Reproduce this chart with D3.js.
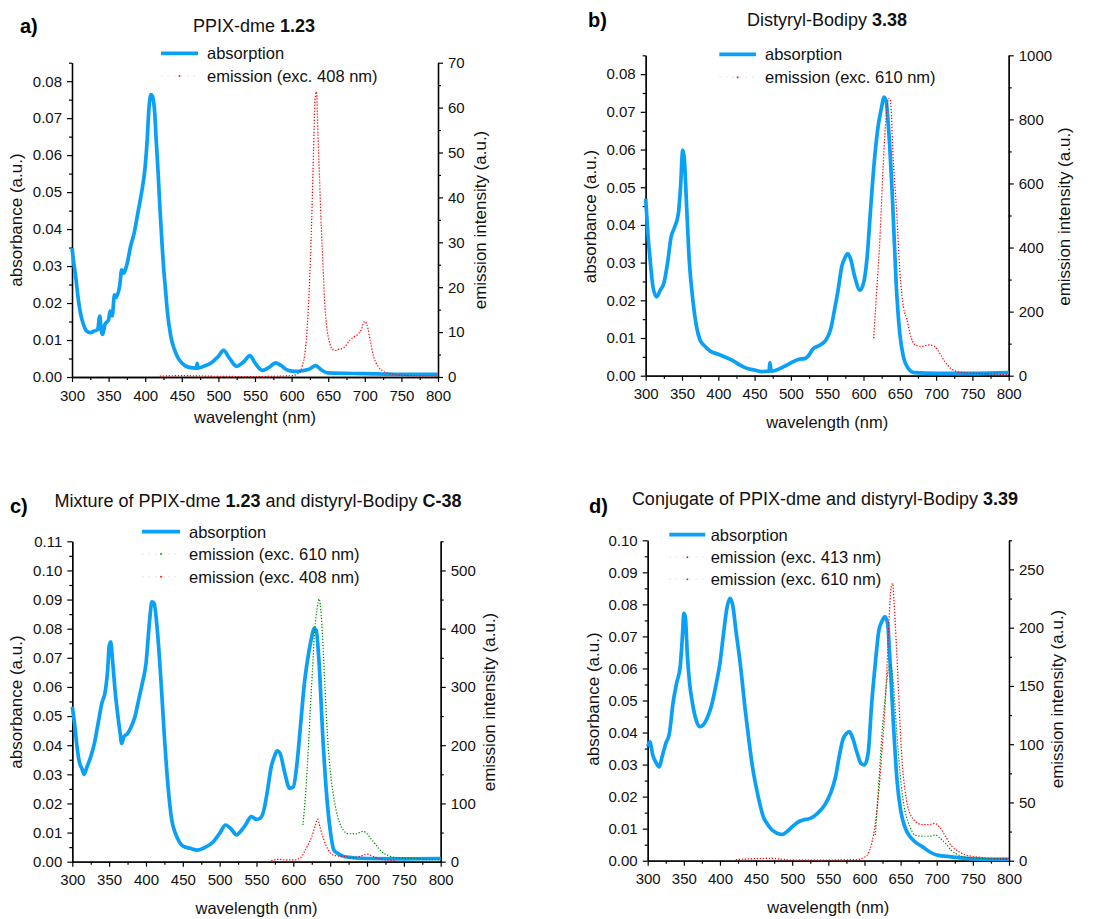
<!DOCTYPE html>
<html>
<head>
<meta charset="utf-8">
<script src="https://cdnjs.cloudflare.com/ajax/libs/d3/7.8.5/d3.min.js"></script>
<style>
  html, body { margin: 0; padding: 0; background: #fff; }
  svg { display: block; }
</style>
</head>
<body>
<script>
// ---------- data: [wavelength (nm), value] ----------
const xTickValues = [300, 350, 400, 450, 500, 550, 600, 650, 700, 750, 800];

// a) PPIX-dme 1.23
const absA = [[300,0.0349],[303,0.030],[305,0.0272],[308,0.022],[310,0.0191],[313,0.016],[315,0.0146],[318,0.013],[320,0.0124],[325,0.0120],[330,0.0124],[335,0.0128],[338,0.0165],[340,0.0125],[342,0.0115],[345,0.0142],[350,0.0155],[352,0.0178],[355,0.0165],[358,0.0222],[360,0.0215],[365,0.0245],[368,0.029],[370,0.0280],[375,0.0304],[380,0.0353],[385,0.0390],[390,0.0444],[395,0.0498],[400,0.0570],[403,0.065],[405,0.0723],[408,0.0764],[410,0.0759],[413,0.0714],[415,0.0642],[418,0.054],[420,0.0462],[423,0.036],[425,0.0300],[428,0.023],[430,0.0182],[435,0.0110],[440,0.0074],[445,0.0051],[450,0.0038],[460,0.0026],[470,0.0024],[471,0.0037],[472,0.0024],[480,0.0029],[490,0.0038],[500,0.0056],[507,0.0072],[515,0.0051],[525,0.0029],[535,0.0042],[543,0.0058],[550,0.0038],[560,0.0018],[570,0.0027],[578,0.0038],[585,0.0032],[595,0.0018],[605,0.0015],[615,0.0017],[625,0.0022],[633,0.0031],[640,0.0020],[650,0.0011],[700,0.0009],[750,0.0007],[800,0.0007]];
const emA408 = [[420,0.2],[450,0.3],[500,0.15],[550,0.1],[600,0.3],[610,0.9],[615,2.7],[618,5],[620,8.3],[623,15.7],[625,23],[628,38],[630,50.5],[632,61.7],[634,63.5],[636,54],[638,45],[640,35.7],[643,24.6],[645,17.2],[648,11.3],[652,7.6],[656,6.1],[660,5.9],[665,6.2],[670,6.4],[675,7.2],[680,8.3],[685,8.9],[690,9.4],[695,10.5],[700,12.4],[703,11.6],[708,7.6],[712,4.6],[718,2.4],[725,1.3],[735,0.7],[750,0.4],[800,0.15]];

// b) Distyryl-Bodipy 3.38
const absB = [[300,0.047],[303,0.0377],[307,0.0289],[310,0.0236],[315,0.0209],[320,0.0227],[325,0.0245],[330,0.0298],[335,0.0368],[340,0.0395],[345,0.043],[348,0.05],[351,0.0598],[353,0.058],[356,0.0465],[360,0.0306],[365,0.02],[370,0.013],[375,0.0094],[380,0.0081],[390,0.0064],[400,0.0057],[410,0.0049],[420,0.004],[430,0.0028],[440,0.0019],[450,0.0015],[460,0.0011],[470,0.0012],[471,0.0035],[473,0.0012],[480,0.0015],[490,0.0024],[500,0.0034],[510,0.0043],[520,0.0046],[525,0.0055],[530,0.007],[540,0.0081],[548,0.0094],[555,0.0125],[560,0.0174],[565,0.0227],[570,0.0289],[575,0.0315],[578,0.0324],[582,0.0311],[588,0.0262],[595,0.0227],[600,0.0245],[605,0.0315],[610,0.0448],[615,0.0571],[620,0.066],[625,0.0713],[628,0.0739],[631,0.073],[635,0.0642],[640,0.0465],[645,0.0245],[650,0.0112],[655,0.005],[660,0.0024],[670,0.0008],[700,0.0006],[750,0.0006],[800,0.0008]];
const emB610 = [[614,117],[618,258],[623,445],[627,650],[632,830],[635,866],[637,860],[641,673],[646,500],[650,328],[655,215],[660,174],[664,132],[671,96],[680,91],[690,96],[697,93],[705,70],[712,44],[720,23],[730,12],[740,9],[760,7],[780,5],[800,4]];

// c) Mixture of PPIX-dme 1.23 and distyryl-Bodipy C-38
const absC = [[300,0.0532],[303,0.0475],[307,0.0383],[310,0.0338],[313,0.032],[316,0.0300],[320,0.0326],[325,0.036],[330,0.0406],[335,0.0475],[340,0.0543],[345,0.0589],[348,0.0658],[350,0.0738],[352,0.0755],[355,0.068],[358,0.0589],[362,0.0498],[365,0.044],[367,0.0406],[370,0.0429],[375,0.044],[380,0.0463],[385,0.0498],[390,0.0555],[395,0.0612],[400,0.068],[405,0.083],[408,0.0892],[411,0.0887],[415,0.0806],[420,0.0635],[425,0.0429],[430,0.0257],[435,0.0143],[440,0.0097],[445,0.0069],[450,0.0054],[460,0.0046],[470,0.004],[480,0.0049],[490,0.0065],[500,0.0097],[508,0.0126],[515,0.0114],[523,0.0092],[530,0.0109],[535,0.0126],[543,0.0155],[550,0.0145],[555,0.0149],[560,0.0177],[565,0.0246],[570,0.0326],[575,0.0366],[578,0.0381],[582,0.0372],[588,0.0309],[595,0.0252],[600,0.0257],[605,0.0338],[610,0.0475],[615,0.0612],[620,0.0704],[625,0.0772],[628,0.0801],[631,0.0795],[635,0.068],[640,0.0429],[645,0.0235],[650,0.0109],[655,0.004],[660,0.0029],[670,0.0017],[700,0.0011],[750,0.001],[800,0.0011]];
const emC610 = [[613,63],[617,123],[620,186],[623,261],[626,329],[629,398],[632,432],[635,451],[638,421],[641,352],[644,272],[647,203],[650,158],[654,117],[658,89],[663,66],[668,54],[675,48],[685,48],[695,52],[700,48],[705,40],[712,29],[720,17],[730,10],[740,7],[760,6],[780,4],[800,3]];
const emC408 = [[570,2],[580,4],[590,3],[600,3],[610,7],[615,17],[620,29],[625,43],[630,63],[633,73],[636,60],[640,43],[645,26],[650,15],[655,11],[660,10],[670,9],[680,7],[690,9],[700,13],[705,11],[712,7],[720,4],[740,2]];

// d) Conjugate of PPIX-dme and distyryl-Bodipy 3.39
const absD = [[300,0.0356],[303,0.0371],[307,0.033],[312,0.0304],[316,0.0293],[320,0.0325],[325,0.0366],[330,0.0397],[335,0.0491],[340,0.0554],[345,0.0606],[348,0.0699],[350,0.0772],[352,0.0762],[355,0.0637],[358,0.0554],[362,0.0491],[367,0.0439],[372,0.0418],[377,0.0424],[382,0.0444],[388,0.0481],[395,0.0554],[400,0.0616],[405,0.071],[410,0.0793],[414,0.0819],[418,0.0793],[422,0.072],[428,0.0616],[435,0.047],[440,0.0377],[445,0.0293],[450,0.0231],[455,0.0179],[460,0.0137],[465,0.0117],[470,0.0101],[475,0.0091],[480,0.0085],[487,0.0082],[493,0.0091],[500,0.0106],[507,0.0119],[515,0.0127],[525,0.0132],[535,0.0148],[545,0.0174],[553,0.021],[560,0.0262],[565,0.0325],[570,0.0377],[575,0.0397],[579,0.0403],[583,0.0387],[590,0.0335],[595,0.0304],[600,0.0299],[605,0.0335],[610,0.0491],[615,0.0616],[620,0.072],[625,0.0751],[628,0.0762],[632,0.0741],[635,0.0637],[640,0.0429],[645,0.0252],[650,0.0158],[655,0.0111],[660,0.0085],[670,0.0059],[680,0.0044],[690,0.0028],[700,0.0018],[720,0.0012],[750,0.0006],[800,0.0004]];
const emD413 = [[422,1],[470,2],[500,0.6],[550,0.6],[590,1],[600,3],[605,6],[610,15],[615,32],[620,61],[625,101],[628,127],[631,164],[634,207],[637,235],[639,238],[641,221],[644,187],[647,147],[650,107],[653,78],[656,61],[660,46],[665,38],[670,34],[680,31],[690,31],[697,32],[705,28],[712,21],[720,13],[730,8],[740,5],[760,3],[780,2],[800,2]];
const emD610 = [[615,22],[618,49],[621,78],[624,107],[627,129],[630,149],[633,164],[636,168],[639,158],[642,135],[645,107],[648,84],[651,64],[655,46],[660,34],[665,26],[670,22],[680,21],[690,21],[698,22],[705,19],[712,15],[720,9],[730,5],[740,3],[760,2],[800,1]];

// ---------- styling ----------
const FONT = "'Liberation Sans', Arial, Helvetica, sans-serif";
const BLUE = "#0aa0f5";
const RED = "#ff0000";
const GREEN = "#008a00";

const svg = d3.select("body").append("svg")
  .attr("width", 1106).attr("height", 919)
  .style("font-family", FONT);

const panels = [
  {
    tag: "a)", tagX: 20, tagY: 33,
    title: ["PPIX-dme ", "1.23", ""], titleX: 254, titleY: 32,
    xTitle: "wavelenght (nm)", xTitleY: 423,
    x0: 72, x1: 438, y0: 377, y1: 62.7,
    leftMax: 0.085, leftTicks: [0, 0.01, 0.02, 0.03, 0.04, 0.05, 0.06, 0.07, 0.08],
    rightMax: 70, rightStep: 10, rightMinor: 5,
    leftTitleX: 22, rightTitleX: 486, titleCY: 220,
    legend: { x0: 161, x1: 198, tx: 207, rows: [53.3, 76] },
    absorption: absA,
    emissions: [{ data: emA408, color: RED, label: "emission (exc. 408 nm)" }]
  },
  {
    tag: "b)", tagX: 588, tagY: 27,
    title: ["Distyryl-Bodipy ", "3.38", ""], titleX: 827, titleY: 26,
    xTitle: "wavelength (nm)", xTitleY: 428,
    x0: 645.7, x1: 1008.7, y0: 375.7, y1: 55.3,
    leftMax: 0.085, leftTicks: [0, 0.01, 0.02, 0.03, 0.04, 0.05, 0.06, 0.07, 0.08],
    rightMax: 1000, rightStep: 200, rightMinor: 100,
    leftTitleX: 596, rightTitleX: 1070, titleCY: 216.5,
    legend: { x0: 719.3, x1: 756, tx: 765, rows: [54.3, 77.3] },
    absorption: absB,
    emissions: [{ data: emB610, color: RED, label: "emission (exc. 610 nm)" }]
  },
  {
    tag: "c)", tagX: 10, tagY: 513,
    title: ["Mixture of PPIX-dme ", "1.23", " and distyryl-Bodipy ", "C-38"], titleX: 258, titleY: 507,
    xTitle: "wavelength (nm)", xTitleY: 914,
    x0: 72.3, x1: 440.7, y0: 861.7, y1: 541.3,
    leftMax: 0.11, leftTicks: [0, 0.01, 0.02, 0.03, 0.04, 0.05, 0.06, 0.07, 0.08, 0.09, 0.10, 0.11],
    rightMax: 550, rightStep: 100, rightMinor: 50,
    leftTitleX: 22, rightTitleX: 495, titleCY: 702,
    legend: { x0: 142, x1: 180, tx: 189, rows: [531.7, 554, 576.7] },
    absorption: absC,
    emissions: [
      { data: emC610, color: GREEN, label: "emission (exc. 610 nm)" },
      { data: emC408, color: RED, label: "emission (exc. 408 nm)" }
    ]
  },
  {
    tag: "d)", tagX: 589, tagY: 513,
    title: ["Conjugate of PPIX-dme and distyryl-Bodipy ", "3.39", ""], titleX: 825, titleY: 505,
    xTitle: "wavelength (nm)", xTitleY: 913,
    x0: 647.7, x1: 1009, y0: 860.7, y1: 540.3,
    leftMax: 0.10, leftTicks: [0, 0.01, 0.02, 0.03, 0.04, 0.05, 0.06, 0.07, 0.08, 0.09, 0.10],
    rightMax: 275, rightStep: 50, rightMinor: 25,
    leftTitleX: 599, rightTitleX: 1063, titleCY: 699,
    legend: { x0: 669.3, x1: 705.3, tx: 710.7, rows: [534.7, 557.3, 579.3] },
    absorption: absD,
    emissions: [
      { data: emD413, color: RED, label: "emission (exc. 413 nm)" },
      { data: emD610, color: GREEN, label: "emission (exc. 610 nm)" }
    ]
  }
];

function styleAxis(sel, fontSize) {
  sel.select(".domain").attr("stroke", "#000").attr("stroke-width", 1.3);
  sel.selectAll(".tick line").attr("stroke", "#000").attr("stroke-width", 1.2);
  sel.selectAll(".tick text")
    .attr("fill", "#111")
    .style("font-size", fontSize + "px")
    .style("font-family", FONT);
}

function drawPanel(p) {
  const g = svg.append("g");
  const x = d3.scaleLinear().domain([300, 800]).range([p.x0, p.x1]);
  const yL = d3.scaleLinear().domain([0, p.leftMax]).range([p.y0, p.y1]);
  const yR = d3.scaleLinear().domain([0, p.rightMax]).range([p.y0, p.y1]);

  // minor ticks
  const xMinor = d3.range(325, 800, 50);
  const yLMinor = d3.range(0.005, p.leftMax + 1e-9, 0.01);
  const yRMinor = d3.range(p.rightMinor, p.rightMax + 1e-9, p.rightStep);

  g.append("g").attr("transform", `translate(0,${p.y0})`)
    .call(d3.axisBottom(x).tickValues(xMinor).tickSize(3).tickSizeOuter(0).tickFormat(""))
    .call(s => styleAxis(s, 15));
  g.append("g").attr("transform", `translate(0,${p.y0})`)
    .call(d3.axisBottom(x).tickValues(xTickValues).tickSize(5).tickSizeOuter(0).tickPadding(8).tickFormat(d3.format("d")))
    .call(s => styleAxis(s, 15));

  g.append("g").attr("transform", `translate(${p.x0},0)`)
    .call(d3.axisLeft(yL).tickValues(yLMinor).tickSize(3).tickSizeOuter(0).tickFormat(""))
    .call(s => styleAxis(s, 15));
  g.append("g").attr("transform", `translate(${p.x0},0)`)
    .call(d3.axisLeft(yL).tickValues(p.leftTicks).tickSize(5).tickSizeOuter(0).tickPadding(5).tickFormat(d3.format(".2f")))
    .call(s => styleAxis(s, 15));

  const rightMajor = d3.range(0, p.rightMax + 1e-9, p.rightStep);
  g.append("g").attr("transform", `translate(${p.x1},0)`)
    .call(d3.axisRight(yR).tickValues(yRMinor).tickSize(3).tickSizeOuter(0).tickFormat(""))
    .call(s => styleAxis(s, 15));
  g.append("g").attr("transform", `translate(${p.x1},0)`)
    .call(d3.axisRight(yR).tickValues(rightMajor).tickSize(5).tickSizeOuter(0).tickPadding(5).tickFormat(d3.format("d")))
    .call(s => styleAxis(s, 15));

  // absorption spectrum
  const lineL = d3.line().x(d => x(d[0])).y(d => yL(d[1])).curve(d3.curveMonotoneX);
  g.append("path").datum(p.absorption)
    .attr("d", lineL).attr("fill", "none")
    .attr("stroke", BLUE).attr("stroke-width", 3.7)
    .attr("stroke-linejoin", "round");

  // emission spectra (dotted, right axis)
  const lineR = d3.line().x(d => x(d[0])).y(d => yR(d[1])).curve(d3.curveMonotoneX);
  p.emissions.forEach(e => {
    g.append("path").datum(e.data)
      .attr("d", lineR).attr("fill", "none")
      .attr("stroke", e.color).attr("stroke-opacity", 0.12)
      .attr("stroke-width", 1.6).attr("stroke-dasharray", "3,4");
    g.append("path").datum(e.data)
      .attr("d", lineR).attr("fill", "none")
      .attr("stroke", e.color).attr("stroke-width", 1.2)
      .attr("stroke-dasharray", "1.2,1.8");
  });

  // panel tag and title
  g.append("text").attr("x", p.tagX).attr("y", p.tagY)
    .style("font-size", "20px").style("font-weight", "bold").text(p.tag);
  const t = g.append("text").attr("x", p.titleX).attr("y", p.titleY)
    .attr("text-anchor", "middle").style("font-size", "18px").attr("fill", "#111");
  p.title.forEach((part, i) => {
    if (!part) return;
    t.append("tspan").text(part).style("font-weight", i % 2 === 1 ? "bold" : "normal");
  });

  // axis titles
  g.append("text").attr("x", (p.x0 + p.x1) / 2).attr("y", p.xTitleY)
    .attr("text-anchor", "middle").style("font-size", "16.5px").attr("fill", "#111").text(p.xTitle);
  g.append("text").attr("transform", `translate(${p.leftTitleX},${p.titleCY}) rotate(-90)`)
    .attr("text-anchor", "middle").style("font-size", "17px").attr("fill", "#111").text("absorbance (a.u.)");
  g.append("text").attr("transform", `translate(${p.rightTitleX},${p.titleCY}) rotate(-90)`)
    .attr("text-anchor", "middle").style("font-size", "17px").attr("fill", "#111").text("emission intensity (a.u.)");

  // legend
  const L = p.legend;
  const entries = [{ type: "abs", label: "absorption" }].concat(p.emissions.map(e => ({ type: "em", color: e.color, label: e.label })));
  entries.forEach((en, i) => {
    const yy = L.rows[i];
    if (en.type === "abs") {
      g.append("line").attr("x1", L.x0).attr("x2", L.x1).attr("y1", yy).attr("y2", yy)
        .attr("stroke", BLUE).attr("stroke-width", 3.7);
    } else {
      g.append("line").attr("x1", L.x0).attr("x2", L.x1).attr("y1", yy).attr("y2", yy)
        .attr("stroke", en.color).attr("stroke-opacity", 0.13).attr("stroke-width", 1.4)
        .attr("stroke-dasharray", "1.5,5");
      g.append("rect").attr("x", (L.x0 + L.x1) / 2 - 0.8).attr("y", yy - 0.8)
        .attr("width", 1.6).attr("height", 1.6).attr("fill", en.color);
    }
    g.append("text").attr("x", L.tx).attr("y", yy).attr("dy", "0.36em")
      .style("font-size", "16.5px").attr("fill", "#111").text(en.label);
  });
}

panels.forEach(drawPanel);
</script>
</body>
</html>
